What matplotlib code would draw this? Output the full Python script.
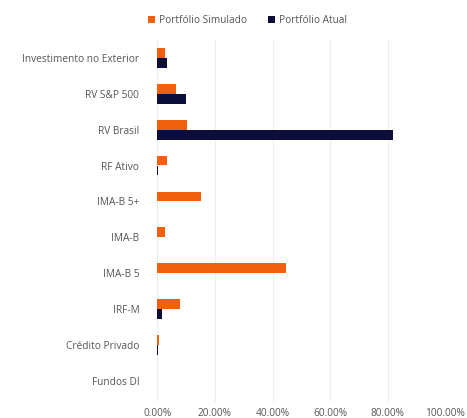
import matplotlib
matplotlib.use("Agg")
import matplotlib.pyplot as plt
import numpy as np

categories = ["Investimento no Exterior", "RV S&P 500", "RV Brasil", "RF Ativo",
              "IMA-B 5+", "IMA-B", "IMA-B 5", "IRF-M", "Crédito Privado", "Fundos DI"]
simulado = [2.5, 6.4, 10.3, 3.4, 15.3, 2.6, 44.6, 7.8, 0.7, 0.0]
atual = [3.4, 10.1, 81.9, 0.3, 0.0, 0.0, 0.0, 1.6, 0.3, 0.0]
xticks = [0, 20, 40, 60, 80, 100]

plt.rcParams['font.family'] = ['Open Sans', 'DejaVu Sans']

fig = plt.figure(figsize=(4.67, 4.18), dpi=100)
ax = fig.add_axes([0.337, 0.038, 0.617, 0.866])

orange = "#F0600F"
navy = "#0B0D3A"
y = np.arange(len(categories))
h = 0.27
ax.barh(y - 0.14, simulado, height=h, color=orange, label="Portfólio Simulado", zorder=3)
ax.barh(y + 0.14, atual, height=h, color=navy, label="Portfólio Atual", zorder=3)

ax.set_xlim(0, 100)
ax.set_ylim(9.6, -0.5)
ax.set_yticks(y)
ax.set_yticklabels(categories, fontsize=7.3, color="#555555")
ax.set_xticks(xticks)
ax.set_xticklabels([f"{v:.2f}%" for v in xticks], fontsize=7.3, color="#555555")
ax.tick_params(axis='both', length=0)
ax.tick_params(axis='y', pad=13)
ax.tick_params(axis='x', pad=4)
ax.grid(axis='x', color="#eeeeee", linewidth=0.8, zorder=0)
for s in ax.spines.values():
    s.set_visible(False)

fig.legend(loc="upper center", bbox_to_anchor=(0.53, 0.985), ncol=2, frameon=False,
           fontsize=7.3, handlelength=0.7, handleheight=0.7, handletextpad=0.4,
           columnspacing=2.0, labelcolor="#555555")

fig.savefig("out.png", dpi=100, facecolor="white")
